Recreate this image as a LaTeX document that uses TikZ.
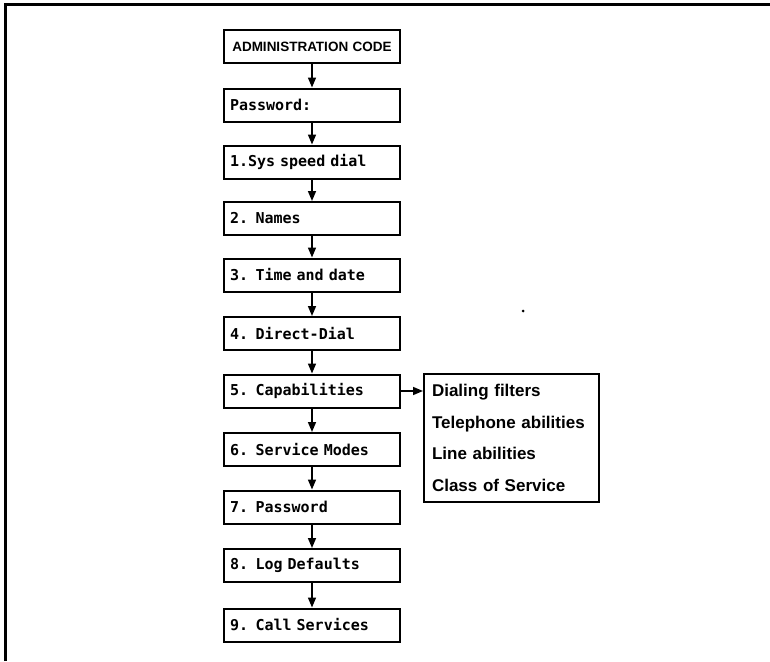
\documentclass[tikz,border=0pt]{standalone}
\usepackage{fontspec}
\setmainfont{Liberation Sans}
\newfontfamily\monofam{DejaVu Sans Mono}
\usetikzlibrary{arrows.meta}
\newcommand\menufont{\monofam\bfseries\fontsize{15}{18}\selectfont}
\newcommand\headfont{\bfseries\fontsize{13.5}{16}\selectfont}
\newcommand\featfont{\bfseries\fontsize{17}{31.7}\selectfont}
\begin{document}
\begin{tikzpicture}[x=1pt,y=-1pt,line width=2pt,
        menu/.style={draw,minimum height=33pt,text width=164pt,inner xsep=6pt,inner ysep=0pt,align=left,font=\menufont},
        feats/.style={draw,minimum height=128pt,text width=159pt,inner xsep=8pt,align=left,font=\featfont},
        flow/.style={-{Triangle[length=10pt,width=8pt]},line width=1.6pt}]
        \useasboundingbox (0,0) rectangle (770,661);
        % \draw[help lines] (0,0) grid[step=50] (770,661);
        \draw[line width=3pt] (5,661) -- (5,5) -- (770,5);
        \node[menu,align=center,font=\headfont] (code) at (312,46.5) {ADMINISTRATION CODE};
        \node[menu] (pass) at (312,105) {Password:};
        \node[menu] (m1) at (312,162) {1.Sys speed dial};
        \node[menu] (m2) at (312,218.5) {2. Names};
        \node[menu] (m3) at (312,275) {3. Time and date};
        \node[menu] (m4) at (312,333.5) {4. Direct-Dial};
        \node[menu] (m5) at (312,391) {5. Capabilities};
        \node[menu] (m6) at (312,449.5) {6. Service Modes};
        \node[menu] (m7) at (312,507) {7. Password};
        \node[menu] (m8) at (312,565.5) {8. Log Defaults};
        \node[menu] (m9) at (312,625) {9. Call Services};
        \node[feats] (caps) at (511.5,438) {Dialing filters\\Telephone abilities\\Line abilities\\Class of Service};
        \draw[flow] (code) -- (pass);
        \draw[flow] (pass) -- (m1);
        \draw[flow] (m1) -- (m2);
        \draw[flow] (m2) -- (m3);
        \draw[flow] (m3) -- (m4);
        \draw[flow] (m4) -- (m5);
        \draw[flow] (m5) -- (m6);
        \draw[flow] (m6) -- (m7);
        \draw[flow] (m7) -- (m8);
        \draw[flow] (m8) -- (m9);
        \draw[flow] (m5.east) -- (m5.east -| caps.west);
        \fill (523,311) circle (1.5pt);
   \end{tikzpicture}
\end{document}
